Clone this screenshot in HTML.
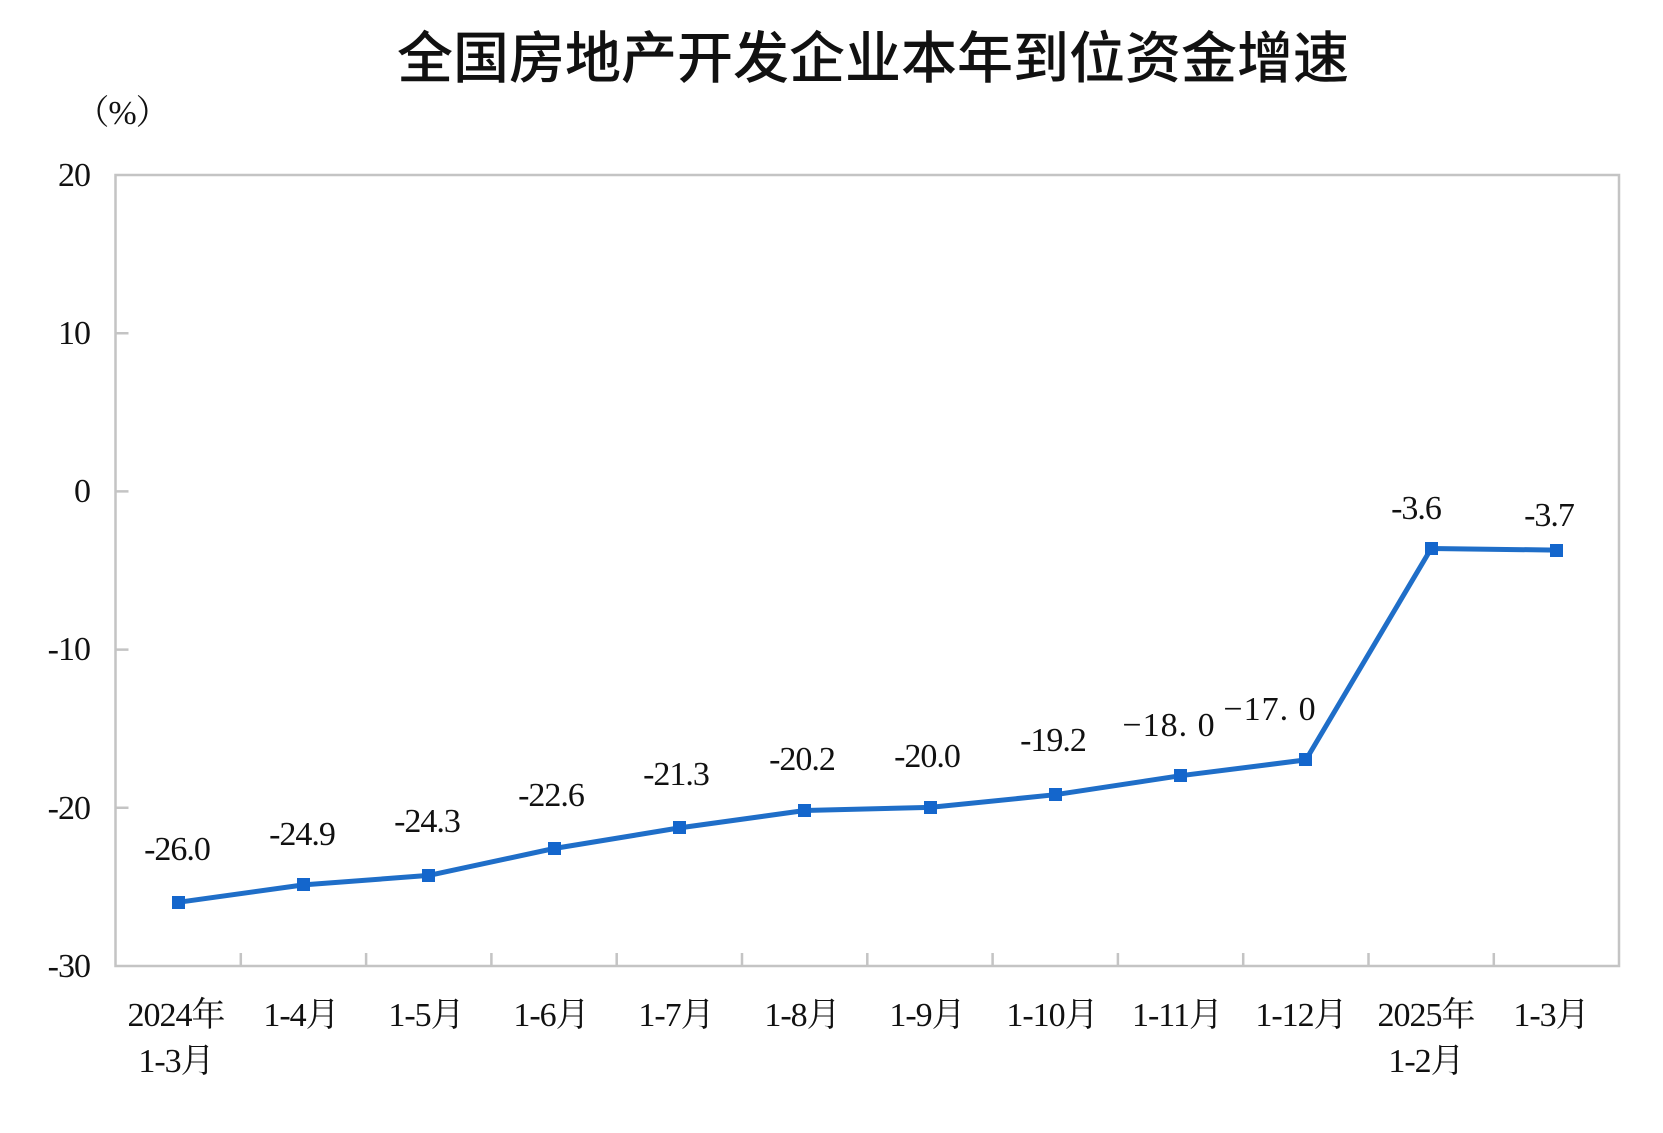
<!DOCTYPE html>
<html><head><meta charset="utf-8"><style>
html,body{margin:0;padding:0;background:#fff;}
svg{display:block;}
.t{font-family:"Liberation Serif","Noto Serif CJK SC",serif;font-size:34px;fill:#111;letter-spacing:-1px;}
</style></head><body>
<svg width="1663" height="1133" viewBox="0 0 1663 1133" xmlns="http://www.w3.org/2000/svg">
<text x="873" y="78" text-anchor="middle" font-family="'Noto Sans CJK SC','WenQuanYi Zen Hei',sans-serif" font-size="56" font-weight="500" fill="#111">全国房地产开发企业本年到位资金增速</text>
<text x="122" y="124" text-anchor="middle" class="t" font-size="30">（%）</text>
<g stroke="#c4c4c4" stroke-width="2.5" fill="none">
<rect x="115.5" y="175" width="1503.5" height="791"/>
<path d="M115.5 333.2h13M115.5 491.4h13M115.5 649.6h13M115.5 807.8h13"/>
<path d="M240.8 966v-13M366.1 966v-13M491.4 966v-13M616.7 966v-13M742 966v-13M867.3 966v-13M992.6 966v-13M1117.9 966v-13M1243.2 966v-13M1368.5 966v-13M1493.8 966v-13"/>
</g>
<g class="t" text-anchor="end">
<text x="90" y="186">20</text><text x="90" y="344">10</text><text x="90" y="502">0</text>
<text x="90" y="660">-10</text><text x="90" y="819">-20</text><text x="90" y="977">-30</text>
</g>
<polyline fill="none" stroke="#1f6ec8" stroke-width="5" stroke-linejoin="round"
points="178.2,902.3 303.5,884.9 428.8,875.4 554.1,848.5 679.4,827.9 804.7,810.5 930,807.4 1055.3,794.7 1180.6,775.7 1305.9,759.9 1431.2,548.5 1556.5,550.1"/>
<g fill="#1466cc">
<rect x="172" y="896" width="13" height="13"/><rect x="297" y="878" width="13" height="13"/>
<rect x="422" y="869" width="13" height="13"/><rect x="548" y="842" width="13" height="13"/>
<rect x="673" y="821" width="13" height="13"/><rect x="798" y="804" width="13" height="13"/>
<rect x="924" y="801" width="13" height="13"/><rect x="1049" y="788" width="13" height="13"/>
<rect x="1174" y="769" width="13" height="13"/><rect x="1299" y="753" width="13" height="13"/>
<rect x="1425" y="542" width="13" height="13"/><rect x="1550" y="544" width="13" height="13"/>
</g>
<g class="t" text-anchor="middle">
<text x="177" y="860">-26.0</text><text x="302" y="845">-24.9</text>
<text x="427" y="832">-24.3</text><text x="551" y="806">-22.6</text>
<text x="676" y="785">-21.3</text><text x="802" y="770">-20.2</text>
<text x="927" y="767">-20.0</text><text x="1053" y="751">-19.2</text>
<text x="1169" y="736" letter-spacing="1">−18. 0</text><text x="1270" y="720" letter-spacing="1">−17. 0</text>
<text x="1416" y="519">-3.6</text><text x="1549" y="526">-3.7</text>
</g>
<g class="t" text-anchor="middle">
<text x="176" y="1026">2024年</text><text x="176" y="1072">1-3月</text>
<text x="301" y="1026">1-4月</text><text x="426" y="1026">1-5月</text>
<text x="551" y="1026">1-6月</text><text x="676" y="1026">1-7月</text>
<text x="802" y="1026">1-8月</text><text x="927" y="1026">1-9月</text>
<text x="1052" y="1026">1-10月</text><text x="1177" y="1026">1-11月</text>
<text x="1301" y="1026">1-12月</text>
<text x="1426" y="1026">2025年</text><text x="1426" y="1072">1-2月</text>
<text x="1551" y="1026">1-3月</text>
</g>
</svg>
</body></html>
